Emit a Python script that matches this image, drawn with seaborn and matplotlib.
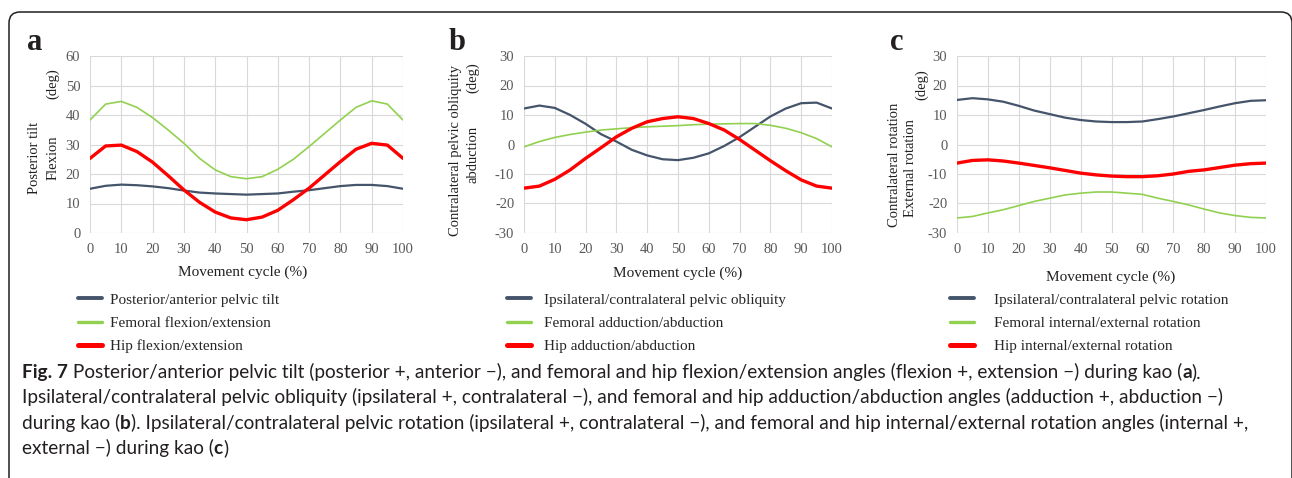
import numpy as np
import pandas as pd
import matplotlib
matplotlib.use("Agg")
import matplotlib.pyplot as plt
import seaborn as sns
from matplotlib.patches import FancyBboxPatch

# ---- data (degrees at every 5 % of the movement cycle) ----
CYCLE = [0, 5, 10, 15, 20, 25, 30, 35, 40, 45, 50, 55, 60, 65, 70, 75, 80, 85, 90, 95, 100]

A_PELVIS = [15.0, 16.0, 16.4, 16.2, 15.8, 15.2, 14.4, 13.7, 13.4, 13.2, 13.0,
            13.2, 13.4, 14.0, 14.5, 15.2, 15.9, 16.3, 16.3, 15.9, 15.0]
A_FEMUR = [38.3, 43.7, 44.6, 42.6, 39.1, 34.9, 30.4, 25.3, 21.4, 19.1, 18.4,
           19.1, 21.6, 25.0, 29.3, 33.8, 38.3, 42.6, 44.8, 43.7, 38.3]
A_HIP = [25.3, 29.5, 29.8, 27.6, 24.0, 19.4, 14.6, 10.4, 7.1, 5.1, 4.5,
         5.4, 7.7, 11.3, 15.2, 19.7, 24.2, 28.4, 30.4, 29.8, 25.3]

B_PELVIS = [12.2, 13.2, 12.4, 10.0, 7.0, 3.5, 1.0, -1.8, -3.7, -5.0, -5.3,
            -4.5, -3.0, -0.5, 2.5, 6.0, 9.5, 12.2, 14.0, 14.2, 12.2]
B_FEMUR = [-0.8, 1.0, 2.4, 3.4, 4.2, 4.9, 5.3, 5.7, 6.0, 6.2, 6.4,
           6.7, 6.9, 7.0, 7.1, 7.1, 6.5, 5.5, 4.0, 2.0, -0.8]
B_HIP = [-14.8, -14.1, -11.8, -8.6, -4.7, -1.1, 2.6, 5.5, 7.7, 8.8, 9.4,
         8.8, 7.1, 4.9, 1.7, -1.9, -5.5, -8.9, -12.0, -14.1, -14.8]

C_PELVIS = [15.1, 15.7, 15.3, 14.5, 13.1, 11.5, 10.3, 9.1, 8.3, 7.8, 7.6,
            7.6, 7.8, 8.6, 9.5, 10.6, 11.7, 12.9, 14.0, 14.8, 15.0]
C_FEMUR = [-24.9, -24.4, -23.2, -22.1, -20.7, -19.3, -18.2, -17.1, -16.5, -16.1, -16.1,
           -16.5, -16.9, -18.2, -19.3, -20.5, -21.9, -23.2, -24.1, -24.7, -24.9]
C_HIP = [-6.3, -5.4, -5.2, -5.6, -6.3, -7.1, -7.9, -8.8, -9.7, -10.3, -10.7,
         -10.9, -10.9, -10.6, -10.0, -9.1, -8.6, -7.8, -7.0, -6.5, -6.3]

A_LABELS = ["Posterior/anterior pelvic tilt", "Femoral flexion/extension", "Hip flexion/extension"]
B_LABELS = ["Ipsilateral/contralateral pelvic obliquity", "Femoral adduction/abduction",
            "Hip adduction/abduction"]
C_LABELS = ["Ipsilateral/contralateral pelvic rotation", "Femoral internal/external rotation",
            "Hip internal/external rotation"]

NAVY, GREEN, RED = "#44546A", "#92D050", "#FF0000"
COLORS = [NAVY, GREEN, RED]
WIDTHS = [1.6, 1.2, 2.4]
W, H = 1292, 478

sns.set_theme(style="whitegrid")
plt.rcParams["font.family"] = ["Liberation Serif", "DejaVu Serif"]
plt.rcParams["axes.unicode_minus"] = False

fig = plt.figure(figsize=(W / 100, H / 100), dpi=100)
# full-figure overlay in pixel units for border, letters and captions
bg = fig.add_axes([0, 0, 1, 1], zorder=-1)
bg.set_xlim(0, W); bg.set_ylim(H, 0); bg.axis("off")
bg.add_patch(FancyBboxPatch((9, 12), 1283, 520, boxstyle="round,pad=0,rounding_size=11",
                            fc="none", ec="#231F20", lw=1.1))

panels = [
    dict(box=(90, 56, 403, 233), ylim=(0, 60), series=[A_PELVIS, A_FEMUR, A_HIP], labels=A_LABELS,
         letter=("a", 35), xlab=(243, 272), leg_x=78, hpad=0.5,
         ylab=[("Posterior tilt", 35, 158), ("Flexion", 53, 158), ("(deg)", 53, 84)]),
    dict(box=(524, 56, 832, 233), ylim=(-30, 30), series=[B_PELVIS, B_FEMUR, B_HIP], labels=B_LABELS,
         letter=("b", 457), xlab=(678, 273), leg_x=507, hpad=0.8,
         ylab=[("Contralateral pelvic obliquity", 455, 151), ("abduction", 473, 154), ("(deg)", 473, 78)]),
    dict(box=(957, 56, 1266, 233), ylim=(-30, 30), series=[C_PELVIS, C_FEMUR, C_HIP], labels=C_LABELS,
         letter=("c", 897), xlab=(1111, 277), leg_x=950, hpad=1.25,
         ylab=[("Contralateral rotation", 895, 165), ("External rotation", 910, 168), ("(deg)", 922, 85)]),
]

for p in panels:
    l, t, r, b = p["box"]
    ax = fig.add_axes([l / W, 1 - b / H, (r - l) / W, (b - t) / H])
    for vals, col, lw in zip(p["series"], COLORS, WIDTHS):
        df = pd.DataFrame({"cycle": CYCLE, "angle": vals})
        sns.lineplot(data=df, x="cycle", y="angle", color=col, linewidth=lw, ax=ax)
    ax.set_xlim(0, 100)
    ax.set_ylim(*p["ylim"])
    ax.set_xticks(range(0, 101, 10))
    ax.set_yticks(range(p["ylim"][0], p["ylim"][1] + 1, 10))
    ax.set_xlabel(""); ax.set_ylabel("")
    ax.tick_params(length=0, labelsize=10.5, labelcolor="#595959", pad=7)
    ax.grid(color="#D9D9D9", linewidth=0.8)
    for s in ax.spines.values():
        s.set_visible(False)
    ax.set_facecolor("none")

    leg = ax.legend(ax.get_lines(), p["labels"], loc="upper left",
                    bbox_to_anchor=(p["leg_x"] / W, 1 - 293 / H), bbox_transform=fig.transFigure,
                    frameon=False, fontsize=11, handlelength=1.6, handletextpad=p["hpad"],
                    labelspacing=0.62, borderpad=0, borderaxespad=0)
    for h, lw in zip(leg.get_lines(), WIDTHS):
        h.set_linewidth(lw + 1.2)
        h.set_solid_capstyle("round")

    letter, lx = p["letter"]
    bg.text(lx, 50, letter, fontsize=22, weight="bold", ha="center", va="baseline", color="#231F20")
    bg.text(*p["xlab"], "Movement cycle (%)", fontsize=11, ha="center", va="center", color="#231F20")
    for txt, x, y in p["ylab"]:
        bg.text(x, y, txt, fontsize=10.5, rotation=90, ha="center", va="center", color="#231F20")

# ---- caption, written run by run so bold pieces sit inline ----
CAP_FONT = ["Lato", "DejaVu Sans"]
CAPTION = [
    [("Fig. 7", "bold"), (" Posterior/anterior pelvic tilt (posterior +, anterior \u2212), and femoral and hip "
                          "flexion/extension angles (flexion +, extension \u2212) during kao (", "normal"),
     ("a", "bold"), (").", "normal")],
    [("Ipsilateral/contralateral pelvic obliquity (ipsilateral +, contralateral \u2212), and femoral and hip "
      "adduction/abduction angles (adduction +, abduction \u2212)", "normal")],
    [("during kao (", "normal"), ("b", "bold"), ("). Ipsilateral/contralateral pelvic rotation (ipsilateral +, "
                                                 "contralateral \u2212), and femoral and hip internal/external "
                                                 "rotation angles (internal +,", "normal")],
    [("external \u2212) during kao (", "normal"), ("c", "bold"), (")", "normal")],
]
renderer = fig.canvas.get_renderer()
for i, runs in enumerate(CAPTION):
    x = 22
    for s, w in runs:
        t = bg.text(x, 378 + i * 25.3, s, fontsize=13.7, weight=w, family=CAP_FONT,
                    ha="left", va="baseline", color="#231F20")
        x += t.get_window_extent(renderer).width

fig.savefig("out.png", dpi=100)
